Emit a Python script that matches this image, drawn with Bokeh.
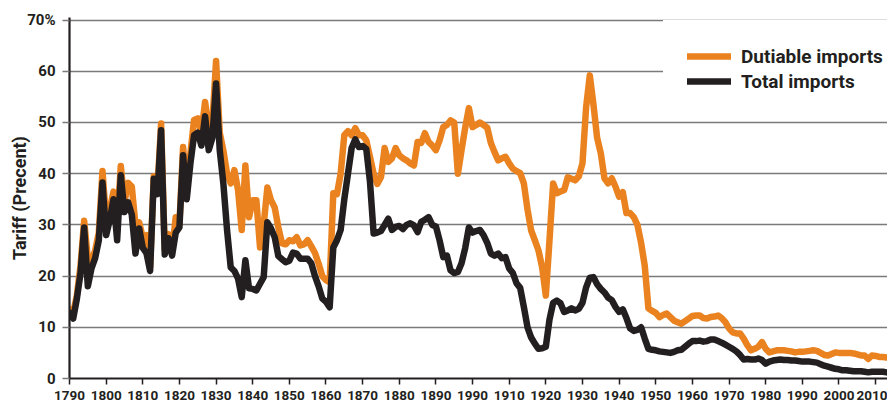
from bokeh.plotting import figure
from bokeh.models import FixedTicker, Legend, LegendItem, Range1d
from bokeh.embed import file_html
from bokeh.resources import INLINE

first_year = 1790
last_year = 2013

total_imports = [
    12.8, 11.7, 15.5, 20.5, 29.5, 18.0, 21.5, 23.5, 27.0, 38.3,
    28.0, 31.0, 35.0, 27.0, 39.7, 32.5, 34.4, 32.0, 24.4, 29.3,
    25.5, 24.5, 21.0, 39.0, 36.0, 48.5, 24.2, 27.4, 24.0, 28.5,
    29.5, 43.6, 35.0, 42.0, 47.5, 48.0, 45.5, 51.2, 44.6, 47.0,
    57.6, 44.6, 38.0, 29.0, 21.7, 21.0, 19.5, 15.9, 23.1, 17.6,
    17.5, 17.2, 18.5, 19.8, 30.5, 29.3, 27.6, 23.9, 23.3, 22.7,
    23.0, 24.6, 24.4, 23.4, 23.4, 23.4, 22.5, 20.0, 18.0, 15.6,
    15.0, 13.9, 25.6, 27.0, 29.0, 35.0, 40.0, 45.0, 46.7, 45.2,
    45.4, 44.8, 38.5, 28.3, 28.5, 28.8, 30.0, 31.2, 29.0, 29.6,
    29.8, 29.2, 30.0, 30.3, 29.9, 28.6, 30.6, 31.0, 31.5, 30.0,
    29.7, 27.0, 23.7, 24.0, 21.1, 20.6, 20.8, 22.5, 25.5, 29.5,
    28.5, 28.8, 29.0, 28.0, 26.5, 24.4, 24.0, 24.4, 23.5, 23.7,
    21.5, 20.6, 18.6, 17.7, 14.0, 10.0, 8.0, 6.8, 5.8, 5.9,
    6.2, 11.5, 14.8, 15.2, 14.7, 13.0, 13.3, 13.7, 13.3, 13.6,
    14.8, 17.8, 19.7, 19.8, 18.4, 17.5, 16.8, 15.8, 15.3, 14.0,
    13.0, 13.5, 11.8, 9.8, 9.3, 9.5, 10.0, 7.8, 5.8, 5.6,
    5.5, 5.3, 5.2, 5.1, 5.0, 5.2, 5.5, 5.6, 6.2, 6.8,
    7.3, 7.3, 7.4, 7.2, 7.3, 7.6, 7.6, 7.3, 7.0, 6.6,
    6.2, 5.8, 5.3, 4.6, 3.7, 3.8, 3.7, 3.7, 3.9, 3.6,
    2.9, 3.3, 3.5, 3.6, 3.7, 3.6, 3.6, 3.5, 3.5, 3.4,
    3.3, 3.3, 3.3, 3.2, 3.1, 2.8, 2.5, 2.3, 2.1, 1.9,
    1.8, 1.6, 1.6, 1.5, 1.4, 1.4, 1.4, 1.3, 1.2, 1.3,
    1.3, 1.3, 1.3, 1.2,
]

dutiable_imports = [
    13.5, 12.8, 16.2, 22.0, 30.8, 23.5, 23.0, 25.0, 28.5, 40.5,
    31.0, 33.0, 36.5, 30.0, 41.5, 34.5, 38.2, 37.5, 30.0, 30.5,
    27.5, 28.0, 21.8, 39.5, 37.0, 49.8, 25.2, 28.2, 25.0, 31.5,
    30.2, 45.2, 36.0, 44.0, 50.5, 50.8, 48.0, 54.0, 49.0, 50.0,
    62.0, 48.0, 44.5, 40.0, 38.1, 40.7, 36.8, 29.0, 41.6, 31.5,
    34.8, 34.8, 25.6, 30.0, 37.3, 34.8, 33.4, 29.5, 26.4, 26.2,
    27.0, 26.8, 27.6, 26.0, 26.2, 27.0, 25.8, 24.5, 22.4, 20.0,
    19.2, 18.8, 36.2, 36.0, 40.0, 47.5, 48.3, 47.5, 48.9, 47.5,
    47.5, 46.5, 43.3, 40.0, 38.0, 39.3, 45.0, 42.3, 43.0, 45.0,
    43.6, 43.0, 42.6, 42.0, 41.6, 46.2, 46.0, 47.9, 46.2, 45.5,
    44.6, 46.5, 49.1, 49.5, 50.4, 50.0, 40.0, 44.6, 49.0, 52.8,
    49.1, 49.5, 50.0, 49.5, 49.0, 46.0, 44.2, 42.6, 43.0, 43.3,
    42.0, 41.0, 40.5, 40.1, 38.1, 33.0, 28.9, 27.0, 25.0, 21.7,
    16.2, 27.0, 38.1, 36.2, 36.5, 36.8, 39.3, 39.0, 38.7, 39.5,
    42.0, 53.0, 59.2, 53.5, 47.0, 44.0, 39.1, 38.1, 39.1, 37.5,
    35.5, 36.4, 32.3, 32.3, 31.5, 30.0, 26.5, 22.0, 13.7, 13.2,
    12.8, 12.0, 12.4, 12.7, 12.0, 11.3, 11.0, 10.7, 11.2, 11.7,
    12.2, 12.3, 12.3, 11.8, 11.7, 12.0, 12.1, 12.3, 11.8, 11.0,
    9.8, 9.0, 8.8, 8.8, 7.8, 6.5, 5.5, 5.8, 6.2, 7.1,
    5.8, 5.1, 5.3, 5.5, 5.5, 5.5, 5.4, 5.3, 5.1, 5.2,
    5.2, 5.3, 5.4, 5.5, 5.4, 5.0, 4.6, 4.5, 4.8, 5.1,
    5.0, 5.0, 5.0, 5.0, 4.9, 4.7, 4.5, 4.5, 3.8, 4.5,
    4.4, 4.2, 4.2, 4.1,
]

x_ticks = list(range(1790, 2011, 10))
x_tick_overrides = {1900: "1990"}
y_ticks = [0, 10, 20, 30, 40, 50, 60, 70]
y_tick_overrides = {70: "70%"}
series_labels = ["Dutiable imports", "Total imports"]

years = list(range(first_year, last_year + 1))

ORANGE = "#E9821F"
BLACK = "#231F20"
GRID = "#7a7a7a"
FONT = "Roboto"

p = figure(
    width=887, height=408,
    x_range=Range1d(1790, 2013.25), y_range=Range1d(0, 70.5),
    output_backend="svg", toolbar_location=None,
    min_border_left=69, min_border_top=17, min_border_bottom=30, min_border_right=0,
)
p.outline_line_color = None
p.background_fill_color = "white"
p.border_fill_color = "white"

p.xgrid.grid_line_color = None
p.ygrid.grid_line_color = GRID
p.ygrid.grid_line_width = 1.6

p.xaxis.ticker = FixedTicker(ticks=x_ticks)
p.xaxis.major_label_overrides = x_tick_overrides
p.yaxis.ticker = FixedTicker(ticks=y_ticks)
p.yaxis.major_label_overrides = y_tick_overrides

for ax in (p.xaxis, p.yaxis):
    ax.axis_line_color = BLACK
    ax.axis_line_width = 2.2
    ax.minor_tick_line_color = None
    ax.major_tick_in = 0
    ax.major_label_text_font = FONT
    ax.major_label_text_font_style = "bold"
    ax.major_label_text_color = BLACK

p.xaxis.major_label_text_font_size = "13.5px"
p.xaxis.major_tick_out = 6
p.xaxis.major_tick_line_color = BLACK
p.xaxis.major_tick_line_width = 1.5
p.xaxis.major_label_standoff = 6

p.yaxis.major_label_text_font_size = "15px"
p.yaxis.major_tick_out = 7
p.yaxis.major_tick_line_color = GRID
p.yaxis.major_tick_line_width = 1.6
p.yaxis.major_label_standoff = 7
p.yaxis.axis_label = "Tariff (Precent)"
p.yaxis.axis_label_text_font = FONT
p.yaxis.axis_label_text_font_style = "bold"
p.yaxis.axis_label_text_font_size = "18px"
p.yaxis.axis_label_text_color = BLACK
p.yaxis.axis_label_standoff = -6

r_d = p.line(years, dutiable_imports, line_color=ORANGE, line_width=6.5,
             line_join="round", line_cap="round")
r_t = p.line(years, total_imports, line_color=BLACK, line_width=6.5,
             line_join="round", line_cap="round")

legend = Legend(
    items=[LegendItem(label=series_labels[0], renderers=[r_d]),
           LegendItem(label=series_labels[1], renderers=[r_t])],
    location=(594, 261),
    padding=23, margin=0, spacing=1,
    glyph_width=44, glyph_height=24, label_height=24,
    label_standoff=10,
    label_text_font=FONT, label_text_font_style="bold",
    label_text_font_size="19px", label_text_color=BLACK,
    background_fill_color="white", background_fill_alpha=1.0,
    border_line_color="white",
)
p.add_layout(legend, "center")

open("out.html", "w").write(file_html(p, INLINE))
